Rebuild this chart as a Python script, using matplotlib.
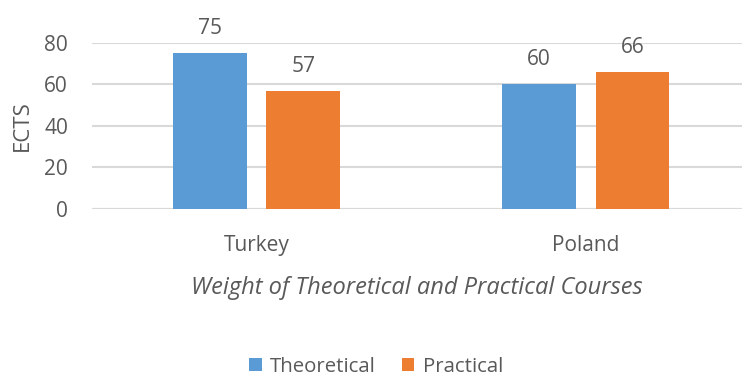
import numpy as np
import matplotlib.pyplot as plt

plt.rcParams['font.family'] = ['Open Sans', 'DejaVu Sans']

countries = ['Turkey', 'Poland']
theoretical = [75, 60]
practical = [57, 66]

blue = '#5B9BD5'
orange = '#ED7D31'
txt = '#595959'
grid = '#D9D9D9'

fig = plt.figure(figsize=(7.42, 3.78), dpi=100)
ax = fig.add_axes([0.1236, 0.447, 0.8764, 0.44])

x = np.arange(len(countries))
w = 0.224
off = 0.142
b1 = ax.bar(x - off, theoretical, w, color=blue, label='Theoretical', zorder=3)
b2 = ax.bar(x + off, practical, w, color=orange, label='Practical', zorder=3)

for bars in (b1, b2):
    for r in bars:
        ax.annotate(f'{r.get_height():g}', (r.get_x() + r.get_width() / 2, r.get_height()),
                    xytext=(0, 10), textcoords='offset points', ha='center', va='bottom',
                    fontsize=15, color=txt)

ax.set_xlim(-0.5, 1.4745)
ax.set_ylim(0, 80)
ax.set_yticks([0, 20, 40, 60, 80])
ax.yaxis.grid(True, color=grid, linewidth=1.5, zorder=0)
ax.set_axisbelow(True)
for s in ax.spines.values():
    s.set_visible(False)
ax.axhline(0, color=grid, linewidth=1.5, zorder=1)

ax.set_xticks(x)
ax.set_xticklabels(countries)
ax.tick_params(axis='both', length=0, labelsize=15, labelcolor=txt)
ax.tick_params(axis='y', pad=17)
ax.tick_params(axis='x', pad=19)

ax.set_ylabel('ECTS', fontsize=16, color=txt, labelpad=8)
ax.set_xlabel('Weight of Theoretical and Practical Courses', fontsize=17, color=txt,
              style='italic', labelpad=14)

fig.legend(handles=[b1, b2], loc='center', bbox_to_anchor=(0.507, 0.03), ncol=2,
           frameon=False, fontsize=14.7, labelcolor=txt, handlelength=0.6, handleheight=0.6,
           handletextpad=0.4, columnspacing=1.3, borderpad=0.2)

fig.savefig('out.png', dpi=100)
